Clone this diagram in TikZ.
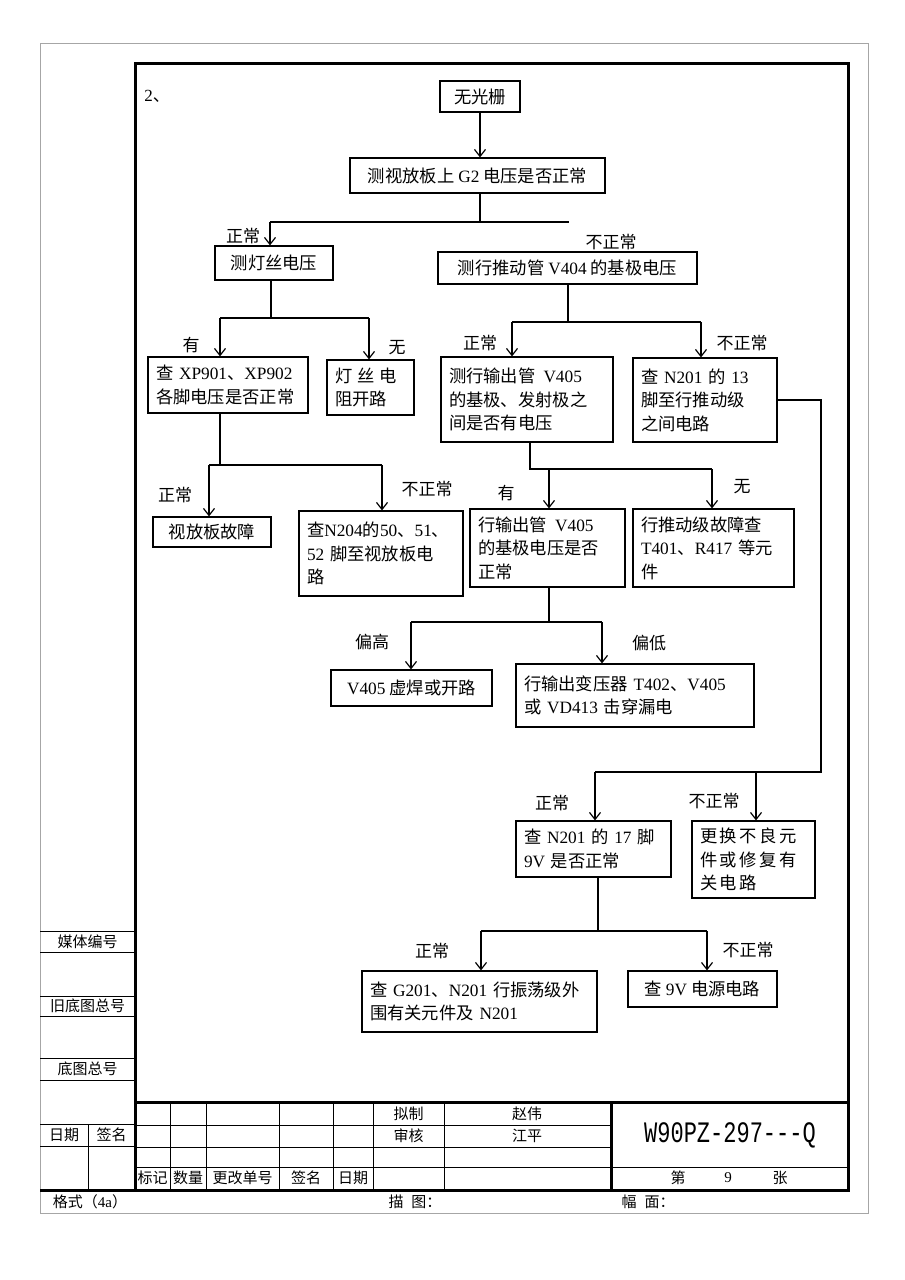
\documentclass[tikz,border=0pt]{standalone}
\usepackage{fontspec}
\usepackage{graphicx}
\setmainfont{Liberation Serif}
\newfontfamily\cjk{Noto Sans CJK SC}
\newfontfamily\monofnt{Liberation Mono}
\usetikzlibrary{arrows.meta}
\newcommand{\latn}[1]{{\rmfamily #1}}
\begin{document}
\begin{tikzpicture}[x=1pt,y=-1pt,
  ln/.style={line width=1.2pt},
  arr/.style={line width=1.2pt,-{Straight Barb[length=7pt,width=11pt]}},
  bx/.style={draw,line width=1.2pt,inner xsep=8pt,inner ysep=0pt,align=left,
    font=\cjk\fontsize{17.3}{23.5}\selectfont},
  sbx/.style={draw,line width=1.2pt,inner sep=0pt,align=center,
    font=\cjk\fontsize{17.3}{23.5}\selectfont},
  lbl/.style={inner sep=0pt,font=\cjk\fontsize{17}{20}\selectfont},
  tb/.style={inner sep=0pt,font=\cjk\fontsize{15}{18}\selectfont},
  thin/.style={line width=0.8pt},
  thick/.style={line width=3pt}]
\useasboundingbox (0,0) rectangle (905,1280);
\fill[white] (0,0) rectangle (905,1280);

% frames
\draw[gray!70,line width=0.8pt] (40,43) rectangle (868,1213);
\draw[thick] (135,63) rectangle (848,1190);
\draw[thick] (40,1190) -- (848,1190);
\draw[thick] (135,1102) -- (848,1102);
\draw[thick] (611,1102) -- (611,1190);
\foreach \yy in {1125,1147,1167} \draw[thin] (135,\yy) -- (611,\yy);
\draw[thin] (611,1167) -- (848,1167);
\foreach \xx in {170,206,279,333,373,444} \draw[thin] (\xx,1102) -- (\xx,1190);
\foreach \yy in {931,952,996,1016,1058,1080,1124,1146} \draw[thin] (40,\yy) -- (135,\yy);
\draw[thin] (88,1124) -- (88,1190);

% left column texts
\node[tb] (m1) at (87.5,941.5) {媒体编号};
\node[tb] (m2) at (87.5,1006) {旧底图总号};
\node[tb] (m3) at (87.5,1069) {底图总号};
\node[tb] (m4) at (64,1135) {日期};
\node[tb] (m5) at (111.5,1135) {签名};

% title block texts
\node[tb] (t1) at (408.5,1114) {拟制};
\node[tb] (t2) at (527,1114) {赵伟};
\node[tb] (t3) at (408.5,1136) {审核};
\node[tb] (t4) at (527,1136) {江平};
\node[tb] (t5) at (152.5,1178) {标记};
\node[tb] (t6) at (188,1178) {数量};
\node[tb] (t7) at (242.5,1178) {更改单号};
\node[tb] (t8) at (306,1178) {签名};
\node[tb] (t9) at (353,1178) {日期};
\node[inner sep=0pt] (t10) at (730,1135) {\scalebox{1}[1.35]{\monofnt\fontsize{22}{26}\selectfont W90PZ-297---Q}};
\node[tb] (t11) at (678,1178) {第};
\node[inner sep=0pt,font=\fontsize{15}{18}\selectfont] (t12) at (728,1178) {9};
\node[tb] (t13) at (780,1178) {张};
\node[tb] (t14) at (90,1202) {格式（\latn{4a}）};
\node[tb] (t15) at (415,1202) {描\hspace{8pt}图：};
\node[tb] (t16) at (648,1202) {幅\hspace{8pt}面：};

% heading
\node[lbl] (hd) at (157,96) {\latn{2}、};

% boxes
\node[sbx,minimum width=80pt,minimum height=31pt] (wu) at (480,96.5) {无光栅};
\node[sbx,minimum width=255pt,minimum height=35pt] (g2) at (477.5,175.5) {测视放板上 \latn{G2} 电压是否正常};
\node[sbx,minimum width=118pt,minimum height=34pt] (deng) at (274,263) {测灯丝电压};
\node[sbx,minimum width=259pt,minimum height=32pt] (v404) at (567.5,268) {测行推动管 \latn{V404} 的基极电压};
\node[bx,minimum width=160pt,minimum height=56pt,text width=144pt] (xp) at (228,385) {查 \latn{XP901}、\latn{XP902}\\各脚电压是否正常};
\node[bx,minimum width=87pt,minimum height=55pt,text width=71pt] (dsd) at (370.5,387.5) {灯\hspace{5pt}丝\hspace{5pt}电\\阻开路};
\node[bx,minimum width=172pt,minimum height=85pt,text width=156pt] (v405a) at (527,399.5) {测行输出管\hspace{8pt}\latn{V405}\\的基极、发射极之\\间是否有电压};
\node[bx,minimum width=144pt,minimum height=84pt,text width=128pt] (n201a) at (705,400) {查 \latn{N201} 的 \latn{13}\\脚至行推动级\\之间电路};
\node[sbx,minimum width=118pt,minimum height=30pt] (sfb) at (212,532) {视放板故障};
\node[bx,minimum width=164pt,minimum height=85pt,text width=148pt] (n204) at (381,553.5) {查\latn{N204}的\latn{50}、\latn{51}、\\\latn{52} 脚至视放板电\\路};
\node[bx,minimum width=155pt,minimum height=78pt,text width=139pt] (v405b) at (547.5,548) {行输出管\hspace{8pt}\latn{V405}\\的基极电压是否\\正常};
\node[bx,minimum width=161pt,minimum height=78pt,text width=145pt] (tdj) at (713.5,548) {行推动级故障查\\\latn{T401}、\latn{R417} 等元\\件};
\node[sbx,minimum width=161pt,minimum height=36pt] (xh) at (411.5,688) {\latn{V405} 虚焊或开路};
\node[bx,minimum width=238pt,minimum height=63pt,text width=222pt] (bya) at (635,695.5) {行输出变压器 \latn{T402}、\latn{V405}\\或 \latn{VD413} 击穿漏电};
\node[bx,minimum width=155pt,minimum height=56pt,text width=139pt] (n201b) at (593.5,849) {查 \latn{N201} 的 \latn{17} 脚\\\latn{9V} 是否正常};
\node[bx,minimum width=123pt,minimum height=77pt,text width=107pt] (gh) at (753.5,859.5) {更\hspace{2.5pt}换\hspace{2.5pt}不\hspace{2.5pt}良\hspace{2.5pt}元\\件\hspace{2.5pt}或\hspace{2.5pt}修\hspace{2.5pt}复\hspace{2.5pt}有\\关\hspace{2.5pt}电\hspace{2.5pt}路};
\node[bx,minimum width=235pt,minimum height=61pt,text width=219pt] (g201) at (479.5,1001.5) {查 \latn{G201}、\latn{N201} 行振荡级外\\围有关元件及 \latn{N201}};
\node[sbx,minimum width=149pt,minimum height=36pt] (dy) at (702.5,989) {查 \latn{9V} 电源电路};

% connectors
\draw[arr] (wu.south) -- (wu.south |- g2.north);

\coordinate (j0) at (480,222);
\coordinate (a1) at (270,222);
\coordinate (a2) at (569,222);
\draw[ln] (j0 |- g2.south) -- (j0);
\draw[ln] (a1) -- (a2);
\draw[arr] (a1) -- (a1 |- deng.north);

\coordinate (k0) at (271,318);
\coordinate (b1) at (220,318);
\coordinate (b2) at (369,318);
\draw[ln] (k0 |- deng.south) -- (k0);
\draw[ln] (b1) -- (b2);
\draw[arr] (b1) -- (b1 |- xp.north);
\draw[arr] (b2) -- (b2 |- dsd.north);

\coordinate (l0) at (568,322);
\coordinate (c1) at (512,322);
\coordinate (c2) at (701,322);
\draw[ln] (l0 |- v404.south) -- (l0);
\draw[ln] (c1) -- (c2);
\draw[arr] (c1) -- (c1 |- v405a.north);
\draw[arr] (c2) -- (c2 |- n201a.north);

\coordinate (d1) at (821,772);
\coordinate (d2) at (595,772);
\coordinate (d3) at (756,772);
\draw[ln] (n201a.east) -| (d1) -- (d2);
\draw[arr] (d2) -- (d2 |- n201b.north);
\draw[arr] (d3) -- (d3 |- gh.north);

\coordinate (e0) at (220,465);
\coordinate (e1) at (209,465);
\coordinate (e2) at (382,465);
\draw[ln] (e0 |- xp.south) -- (e0);
\draw[ln] (e1) -- (e2);
\draw[arr] (e1) -- (e1 |- sfb.north);
\draw[arr] (e2) -- (e2 |- n204.north);

\coordinate (f0) at (530,469);
\coordinate (f1) at (549,469);
\coordinate (f2) at (712,469);
\draw[ln] (f0 |- v405a.south) -- (f0) -- (f2);
\draw[arr] (f1) -- (f1 |- v405b.north);
\draw[arr] (f2) -- (f2 |- tdj.north);

\coordinate (g0) at (549,622);
\coordinate (g1) at (411,622);
\coordinate (g2p) at (602,622);
\draw[ln] (g0 |- v405b.south) -- (g0);
\draw[ln] (g1) -- (g2p);
\draw[arr] (g1) -- (g1 |- xh.north);
\draw[arr] (g2p) -- (g2p |- bya.north);

\coordinate (h0) at (598,931);
\coordinate (h1) at (481,931);
\coordinate (h2) at (707,931);
\draw[ln] (h0 |- n201b.south) -- (h0);
\draw[ln] (h1) -- (h2);
\draw[arr] (h1) -- (h1 |- g201.north);
\draw[arr] (h2) -- (h2 |- dy.north);

% labels
\node[lbl] (L1) at (243,236) {正常};
\node[lbl] (L2) at (611,242) {不正常};
\node[lbl] (L3) at (191,345) {有};
\node[lbl] (L4) at (397,348) {无};
\node[lbl] (L5) at (480,343) {正常};
\node[lbl] (L6) at (742,343) {不正常};
\node[lbl] (L7) at (175,495) {正常};
\node[lbl] (L8) at (427,489) {不正常};
\node[lbl] (L9) at (506,493) {有};
\node[lbl] (L10) at (742,487) {无};
\node[lbl] (L11) at (372,642) {偏高};
\node[lbl] (L12) at (649,643) {偏低};
\node[lbl] (L13) at (552,803) {正常};
\node[lbl] (L14) at (714,801) {不正常};
\node[lbl] (L15) at (432,951) {正常};
\node[lbl] (L16) at (748,950) {不正常};
\end{tikzpicture}
\end{document}
